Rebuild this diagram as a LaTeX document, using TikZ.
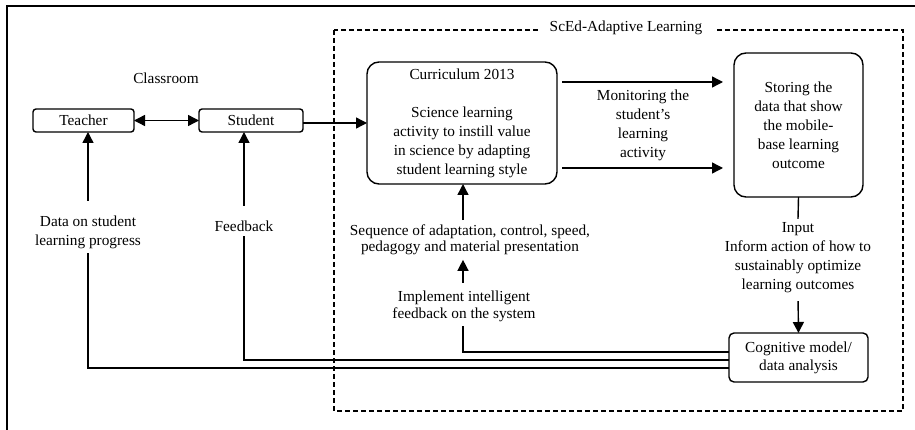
\documentclass[tikz,border=0pt]{standalone}
\usepackage{fontspec}
\setmainfont{Liberation Serif}
\usetikzlibrary{arrows.meta}
\begin{document}
\begin{tikzpicture}[x=1pt,y=-1pt,
  every node/.style={font=\fontsize{15.3}{19}\selectfont, inner sep=0pt, outer sep=0pt},
  lbl/.style={align=center},
  smallbox/.style={draw, line width=1.4pt, rounded corners=3pt, minimum height=23pt},
  bigbox/.style={draw, line width=1.4pt, rounded corners=12pt, align=center},
  conn/.style={line width=1.4pt},
  arr/.style={line width=1.4pt, -{Triangle[length=11pt,width=11pt]}},
  darr/.style={line width=1.4pt, {Triangle[length=11pt,width=11pt]}-{Triangle[length=11pt,width=11pt]}}
]
\useasboundingbox (0,0) rectangle (915,430);
% outer frame (only top and left visible)
\draw[line width=1.6pt] (7,430) -- (7,6) -- (915,6);
% dashed region
\draw[line width=1.2pt, dash pattern=on 5pt off 3pt] (334,30) rectangle (903,411);
\node[fill=white, inner xsep=12pt, inner ysep=3pt] (title) at (626,28) {ScEd-Adaptive Learning};

% classroom
\node (classroom) at (166,78) {Classroom};
\node[smallbox, minimum width=101pt] (teacher) at (83.5,120.5) {Teacher};
\node[smallbox, minimum width=104pt] (student) at (251,120.5) {Student};
\draw[darr] (teacher) -- (student);

% curriculum
\node[bigbox, minimum width=190pt, minimum height=122pt] (curr) at (462,123)
  {Curriculum 2013\\[19pt]Science learning\\activity to instill value\\in science by adapting\\student learning style};
\coordinate (sin) at (302,123);
\draw[arr] (student.east |- sin) -- (curr.west |- sin);

% storing
\node[bigbox, minimum width=129pt, minimum height=144pt] (store) at (798.5,125)
  {Storing the\\data that show\\the mobile-\\base learning\\outcome};
\coordinate (m1) at (0,82);
\coordinate (m2) at (0,168);
\draw[arr, shorten <=5pt, shorten >=11pt] (curr.east |- m1) -- (store.west |- m1);
\draw[arr, shorten <=5pt, shorten >=11pt] (curr.east |- m2) -- (store.west |- m2);
\node[lbl] (monitor) at (643,125) {Monitoring the\\student’s\\learning\\activity};

% input
\node[lbl, inner ysep=4pt] (input) at (798,258) {Input\\Inform action of how to\\sustainably optimize\\learning outcomes};
\draw[conn] (store.south) -- (input.north);
\node[draw, line width=1.4pt, rounded corners=5pt, minimum width=139pt, minimum height=49pt, align=center,
  font=\fontsize{15.3}{18}\selectfont] (cog) at (798.5,357.5) {Cognitive model/\\data analysis};
\draw[arr, shorten <=4pt] (input.south) -- (cog.north);

% center column
\node[lbl, font=\fontsize{15.3}{15.6}\selectfont, inner ysep=5pt] (seq) at (470,240)
  {Sequence of adaptation, control, speed,\\pedagogy and material presentation};
\coordinate (cx) at (463,0);
\draw[arr] (seq.north -| cx) -- (curr.south -| cx);
\node[lbl, font=\fontsize{15.3}{17}\selectfont, inner ysep=5pt] (impl) at (464,306)
  {Implement intelligent\\feedback on the system};
\draw[arr, shorten <=3pt] (impl.north -| cx) -- (seq.south -| cx);

% feedback column
\node[lbl, inner ysep=5pt] (fb) at (244,226) {Feedback};
\coordinate (fx) at (244,0);
\draw[arr, shorten <=10pt] (fb.north -| fx) -- (student.south -| fx);

% data column
\node[lbl, inner ysep=5pt] (data) at (88,232) {Data on student\\learning progress};
\coordinate (dx) at (88,0);
\draw[arr, shorten <=10pt] (data.north -| dx) -- (teacher.south -| dx);

% return lines from cognitive model
\coordinate (r1) at (0,352);
\coordinate (r2) at (0,360);
\coordinate (r3) at (0,368);
\draw[conn] (cog.west |- r1) -| (impl.south -| cx);
\draw[conn] (cog.west |- r2) -| (fb.south -| fx);
\draw[conn] (cog.west |- r3) -| (data.south -| dx);
\end{tikzpicture}
\end{document}
